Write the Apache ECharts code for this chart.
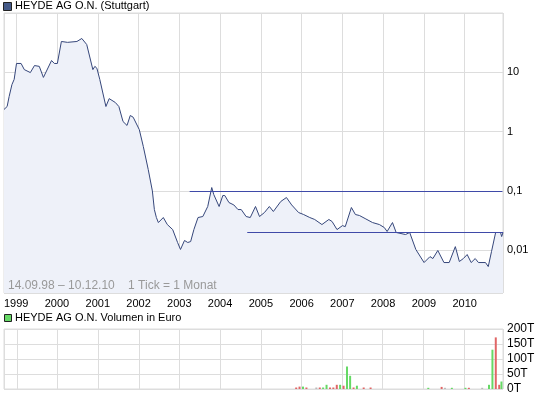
<!DOCTYPE html>
<html>
<head>
<meta charset="utf-8">
<script src="https://cdn.jsdelivr.net/npm/echarts@6/dist/echarts.min.js"></script>
<style>
html, body { margin: 0; padding: 0; background: #fff; }
#chart { width: 545px; height: 398px; }
</style>
</head>
<body>
<div id="chart"></div>
<script>
const priceDates = [
  '1998-09-14', '1998-10-12', '1998-10-30', '1998-11-24', '1998-12-14',
  '1999-01-04', '1999-02-14', '1999-03-15', '1999-05-08', '1999-06-14',
  '1999-07-27', '1999-09-02', '1999-11-14', '1999-12-09', '2000-01-05',
  '2000-02-10', '2000-04-05', '2000-06-28', '2000-08-11', '2000-09-24',
  '2000-11-18', '2000-12-06', '2000-12-24', '2001-01-19', '2001-03-15',
  '2001-04-13', '2001-06-07', '2001-07-09', '2001-08-15', '2001-09-20',
  '2001-10-19', '2001-11-14', '2002-01-08', '2002-02-13', '2002-03-29',
  '2002-05-05', '2002-05-23', '2002-06-10', '2002-06-28', '2002-08-11',
  '2002-09-16', '2002-11-03', '2002-12-17', '2003-01-12', '2003-02-17',
  '2003-03-18', '2003-04-13', '2003-05-12', '2003-06-18', '2003-07-31',
  '2003-09-13', '2003-10-19', '2003-11-06', '2003-12-24', '2004-01-26',
  '2004-02-13', '2004-03-21', '2004-05-04', '2004-06-10', '2004-07-09',
  '2004-08-22', '2004-09-28', '2004-11-14', '2004-12-20', '2005-02-02',
  '2005-03-18', '2005-04-23', '2005-06-28', '2005-08-18', '2005-10-04',
  '2005-12-05', '2006-01-19', '2006-03-15', '2006-04-28', '2006-07-02',
  '2006-09-02', '2006-10-01', '2006-11-14', '2007-01-02', '2007-01-27',
  '2007-03-23', '2007-04-28', '2007-06-03', '2007-07-24', '2007-09-28',
  '2007-11-29', '2008-01-12', '2008-02-06', '2008-03-25', '2008-04-27',
  '2008-07-20', '2008-08-26', '2008-10-20', '2009-01-02', '2009-02-24',
  '2009-03-22', '2009-05-05', '2009-06-29', '2009-08-15', '2009-10-09',
  '2009-11-14', '2009-12-20', '2010-01-23', '2010-02-28', '2010-04-05',
  '2010-05-04', '2010-07-06', '2010-07-31', '2010-08-29', '2010-10-05',
  '2010-11-18', '2010-11-28', '2010-12-10'
]
const priceValues = [
  2.36, 2.65, 3.9, 6.2, 7.6,
  14.1, 14.1, 11.1, 9.9, 13.0,
  12.6, 8.2, 15.8, 14.1, 14.1,
  33.1, 32.0, 33.1, 37.2, 29.4,
  11.1, 12.6, 11.7, 7.6, 2.65,
  3.6, 3.1, 2.65, 1.48, 1.27,
  1.87, 1.75, 1.08, 0.56, 0.23,
  0.1, 0.0485, 0.0356, 0.0293, 0.0356,
  0.0271, 0.0223, 0.0135, 0.0103, 0.0146,
  0.0135, 0.014, 0.0223, 0.0356, 0.037,
  0.0546, 0.114, 0.0869, 0.0546, 0.0836,
  0.0836, 0.0637, 0.058, 0.0485, 0.0485,
  0.037, 0.0356, 0.0546, 0.037, 0.0432,
  0.0546, 0.045, 0.0663, 0.0774, 0.058,
  0.0432, 0.04, 0.0356, 0.033, 0.0271,
  0.033, 0.0305, 0.0223, 0.026, 0.025,
  0.0525, 0.04, 0.0385, 0.0342, 0.0293,
  0.0271, 0.0241, 0.0207, 0.0293, 0.0199,
  0.0184, 0.0199, 0.0103, 0.0062, 0.0078,
  0.00724, 0.0099, 0.0062, 0.0062, 0.0115,
  0.00645, 0.00724, 0.00846, 0.0062, 0.00724,
  0.0062, 0.0062, 0.0053, 0.0095, 0.0199,
  0.0199, 0.017, 0.0199
]

// Widerstands-/Unterstützungslinien
const lineStarts = ['2003-04-04', '2004-09-01']
const lineEnds = ['2010-12-05', '2010-12-10']
const lineLevels = [0.1, 0.02]

// Umsatz in Tausend Euro, monatlich
const volumeMonths = [
  '2005-11-15', '2005-12-15', '2006-01-15', '2006-02-15', '2006-05-15',
  '2006-06-15', '2006-07-15', '2006-08-15', '2006-09-15', '2006-10-15',
  '2006-11-15', '2006-12-15', '2007-01-15', '2007-02-15', '2007-03-15',
  '2007-04-15', '2007-05-15', '2007-07-15', '2007-09-15', '2009-02-15',
  '2009-06-15', '2009-07-15', '2009-09-15', '2010-01-15', '2010-02-15',
  '2010-06-15', '2010-08-15', '2010-09-15', '2010-10-15', '2010-11-15',
  '2010-12-05'
]
const volumeValues = [
  5, 8, 8, 5, 5,
  5, 5, 14, 5, 5,
  14, 14, 11, 75, 44,
  5, 11, 5, 5, 4,
  7, 4, 4, 4, 4,
  4, 14, 131, 172, 14,
  25
]
const volumeMoves = [
  'down', 'down', 'up', 'down', 'flat',
  'down', 'up', 'up', 'down', 'down',
  'down', 'up', 'down', 'up', 'up',
  'down', 'up', 'down', 'down', 'up',
  'down', 'flat', 'up', 'up', 'down',
  'flat', 'up', 'up', 'down', 'down',
  'up'
]

const yearLabels = ['1999', '2000', '2001', '2002', '2003', '2004', '2005', '2006', '2007', '2008', '2009', '2010']
const priceTickValues = [10, 1, 0.1, 0.01]
const priceTickLabels = ['10', '1', '0,1', '0,01']
const volumeTickValues = [0, 50, 100, 150, 200]
const volumeTickLabels = ['0T', '50T', '100T', '150T', '200T']

const moveColors = { up: '#66d966', down: '#e06666', flat: '#bbbbbb' }
const gridColor = '#dddddd'
const font = 'Liberation Sans, Arial, sans-serif'

const chart = echarts.init(document.getElementById('chart'))

const timeAxis = (gridIndex, showLabels) => ({
  type: 'time',
  gridIndex,
  min: '1998-09-14',
  max: '2010-12-10',
  minInterval: 365 * 24 * 3600 * 1000,
  maxInterval: 366 * 24 * 3600 * 1000,
  axisLine: { show: false },
  axisTick: { show: false },
  splitLine: { show: true, lineStyle: { color: gridColor, width: 1 } },
  axisLabel: {
    show: showLabels,
    color: '#000',
    fontSize: 11,
    fontFamily: font,
    margin: 5,
    hideOverlap: false,
    formatter: (v) => {
      const y = String(new Date(v).getFullYear())
      return yearLabels.includes(y) ? y : ''
    },
  },
})

const options = {
  animation: false,
  grid: [
    { left: 4, right: 42, top: 13, height: 280, show: true, borderColor: gridColor, borderWidth: 1 },
    { left: 4, right: 42, top: 329, height: 60, show: true, borderColor: gridColor, borderWidth: 1 },
  ],
  xAxis: [timeAxis(0, true), timeAxis(1, false)],
  yAxis: [
    {
      type: 'log',
      logBase: 10,
      gridIndex: 0,
      position: 'right',
      min: 0.0019,
      max: 100,
      axisLine: { show: false },
      axisTick: { show: false },
      splitLine: { show: true, lineStyle: { color: gridColor, width: 1 } },
      axisLabel: {
        color: '#000',
        fontSize: 11,
        fontFamily: font,
        margin: 4,
        formatter: (v) => {
          const i = priceTickValues.findIndex((t) => Math.abs(Math.log10(v) - Math.log10(t)) < 1e-6)
          return i >= 0 ? priceTickLabels[i] : ''
        },
      },
    },
    {
      type: 'value',
      gridIndex: 1,
      position: 'right',
      min: 0,
      max: 200,
      interval: 50,
      axisLine: { show: false },
      axisTick: { show: false },
      splitLine: { show: true, lineStyle: { color: gridColor, width: 1 } },
      axisLabel: {
        color: '#000',
        fontSize: 12,
        fontFamily: font,
        margin: 4,
        formatter: (v) => volumeTickLabels[volumeTickValues.indexOf(v)] || '',
      },
    },
  ],
  series: [
    {
      type: 'line',
      xAxisIndex: 0,
      yAxisIndex: 0,
      data: priceDates.map((d, i) => [d, priceValues[i]]),
      showSymbol: false,
      lineStyle: { color: '#35467a', width: 1 },
      areaStyle: { color: '#eef1f9', origin: 'start', opacity: 1 },
      silent: true,
      markLine: {
        silent: true,
        symbol: 'none',
        label: { show: false },
        lineStyle: { color: '#3f4aa8', width: 1, type: 'solid' },
        data: lineLevels.map((lv, i) => [
          { coord: [lineStarts[i], lv] },
          { coord: [lineEnds[i], lv] },
        ]),
      },
    },
    {
      type: 'bar',
      xAxisIndex: 1,
      yAxisIndex: 1,
      barWidth: 2,
      silent: true,
      data: volumeMonths.map((d, i) => ({
        value: [d, volumeValues[i]],
        itemStyle: { color: moveColors[volumeMoves[i]] },
      })),
    },
  ],
  graphic: [
    { type: 'rect', z: 100, left: 3, top: 2, shape: { width: 8, height: 8 }, style: { fill: '#455a88', stroke: '#222', lineWidth: 1 } },
    { type: 'text', z: 100, left: 15, top: 0, style: { text: 'HEYDE AG O.N. (Stuttgart)', fill: '#000', font: '11px ' + font } },
    { type: 'text', z: 100, left: 8, top: 280, style: { text: '14.09.98 \u2013 10.12.10    1 Tick = 1 Monat', fill: '#999', font: '12px ' + font } },
    { type: 'rect', z: 100, left: 4, top: 314, shape: { width: 7, height: 7 }, style: { fill: '#66d966', stroke: '#222', lineWidth: 1 } },
    { type: 'text', z: 100, left: 15, top: 312, style: { text: 'HEYDE AG O.N. Volumen in Euro', fill: '#000', font: '11px ' + font } },
  ],
}

chart.setOption(options)
</script>
</body>
</html>
